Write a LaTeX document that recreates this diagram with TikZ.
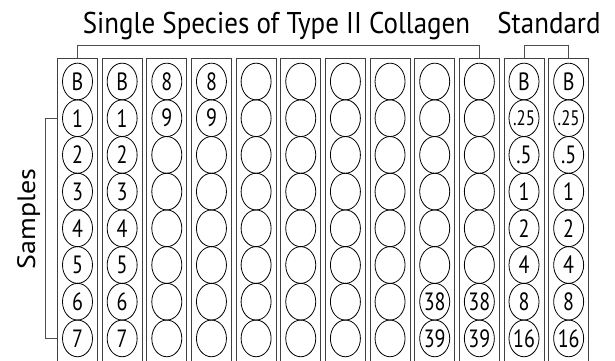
\documentclass[tikz,border=0pt]{standalone}
\usepackage{fontspec}
\setmainfont{PT Sans}
\usetikzlibrary{shapes.geometric}

\begin{document}
\begin{tikzpicture}[
    x=1pt, y=1pt,
    strip/.style={draw=black!75, line width=1pt, minimum width=40pt, minimum height=320pt, inner sep=0pt},
    well/.style={ellipse, draw, line width=0.8pt, minimum width=30pt, minimum height=36.7pt, inner sep=0pt},
    num/.style={inner sep=0pt, xscale=0.8, font=\fontsize{25}{25}\selectfont},
    bracket/.style={draw=black!70, line width=1pt},
    heading/.style={inner sep=0pt, anchor=base, xscale=0.9, font=\fontsize{30}{30}\selectfont}
]
    \useasboundingbox (0,0) rectangle (615,360);
    \clip (0,0) rectangle (615,360);

    % strips with eight wells each
    \foreach \c in {1,...,12} {
        \node[strip] (s\c) at ({77.5+44.65*(\c-1)}, 142) {};
        \foreach \r in {0,...,7}
            \node[well] (w\c-\r) at ({77.5+44.65*(\c-1)}, {278.5-36.7*\r}) {};
    }

    % samples
    \foreach \c in {1,2}
        \foreach \t [count=\r from 0] in {B,1,2,3,4,5,6,7}
            \node[num] (t\c-\r) at (w\c-\r) {\t};
    \foreach \c in {3,4}
        \foreach \t [count=\r from 0] in {8,9}
            \node[num] (t\c-\r) at (w\c-\r) {\t};
    \foreach \c in {9,10}
        \foreach \t [count=\r from 6] in {38,39}
            \node[num] (t\c-\r) at (w\c-\r) {\t};

    % standard
    \foreach \c in {11,12}
        \foreach \t [count=\r from 0] in {B,{\fontsize{21}{21}\selectfont .25},.5,1,2,4,8,16}
            \node[num] (t\c-\r) at (w\c-\r) {\t};

    % brackets
    \draw[bracket] (s1.north) -- ++(0,12) -| (s10.north);
    \draw[bracket] (s11.north) -- ++(0,12) -| (s12.north);
    \draw[bracket] (s1.west |- w1-1) -- ++(-12,0) |- (s1.west |- w1-7);

    % headings
    \node[heading] (title) at (276.5,327) {Single Species of Type II Collagen};
    \node[heading] (std) at (549,327) {Standard};
    \node[heading, rotate=90, font=\fontsize{28}{28}\selectfont] (smp) at (35,141) {Samples};
\end{tikzpicture}
\end{document}
